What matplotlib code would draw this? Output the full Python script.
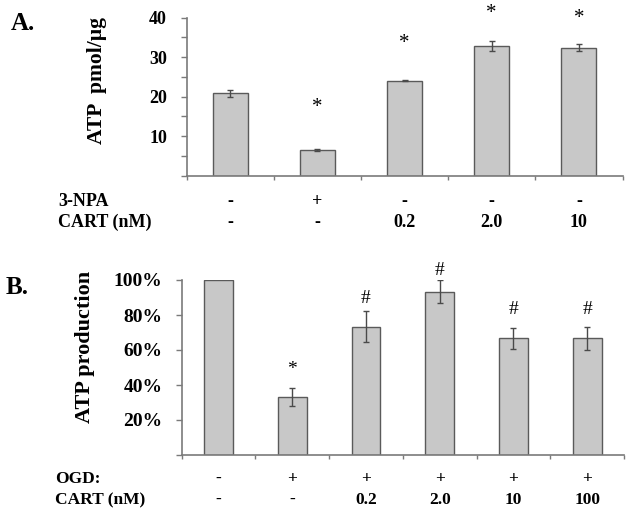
import numpy as np
import matplotlib
matplotlib.use("Agg")
import matplotlib.pyplot as plt
import matplotlib.transforms as mtransforms

# ---------------- data ----------------
a_values = [20.8, 6.5, 24.0, 32.8, 32.4]
a_errors = [0.8, 0.35, 0.15, 1.2, 0.8]
a_marks = ["", "*", "*", "*", "*"]
a_mark_y = [0, 17.3, 33.5, 41.0, 39.7]
a_row1_name = "3-NPA"
a_row1 = ["-", "+", "-", "-", "-"]
a_row2_name = "CART (nM)"
a_row2 = ["-", "-", "0.2", "2.0", "10"]
a_yticks = [0, 5, 10, 15, 20, 25, 30, 35, 40]
a_yticklabels = ["", "", "10", "", "20", "", "30", "", "40"]

b_values = [100, 33.3, 73.3, 93.3, 66.7, 66.7]
b_errors = [0, 5.1, 8.8, 6.5, 6.0, 6.7]
b_marks = ["", "*", "#", "#", "#", "#"]
b_mark_y = [0, 48.6, 89.5, 105.7, 82.9, 82.9]
b_row1_name = "OGD:"
b_row1 = ["-", "+", "+", "+", "+", "+"]
b_row2_name = "CART (nM)"
b_row2 = ["-", "-", "0.2", "2.0", "10", "100"]
b_yticks = [0, 20, 40, 60, 80, 100]
b_yticklabels = ["", "20%", "40%", "60%", "80%", "100%"]

# ---------------- style ----------------
W, H = 629, 512
FONT = "Liberation Serif"
plt.rcParams["font.family"] = [FONT, "DejaVu Serif"]
plt.rcParams["font.weight"] = "bold"

fig = plt.figure(figsize=(W / 100, H / 100), dpi=100)

def fx(px):
    return px / W

def fy(py):
    return 1 - py / H

BAR_FC = "#c8c8c8"
BAR_EC = "#5a5a5a"
AX_C = "#7a7a7a"
ERR_C = "#4a4a4a"


def make_panel(rect, values, errors, marks, mark_y, ylim, yticks, yticklabels,
               tick_fs, width, row_names, rows, row_y, row_x, row_fs,
               ylabel, ylabel_pos, ylabel_fs, letter, letter_pos, mark_fs):
    ax = fig.add_axes(rect)
    n = len(values)
    x = np.arange(n)
    ax.bar(x, values, width=width, color=BAR_FC, edgecolor=BAR_EC, linewidth=1.0, zorder=2)
    errs = np.asarray(errors, dtype=float)
    keep = errs > 0
    ax.errorbar(x[keep], np.asarray(values)[keep], yerr=errs[keep], fmt="none",
                ecolor=ERR_C, elinewidth=1.0, capsize=2.5, capthick=1.0, zorder=3)
    ax.set_xlim(-0.5, n - 0.5)
    ax.set_ylim(*ylim)
    for s in ["top", "right"]:
        ax.spines[s].set_visible(False)
    for s in ["left", "bottom"]:
        ax.spines[s].set_color(AX_C)
        ax.spines[s].set_linewidth(1.2)
    ax.set_yticks(yticks)
    ax.set_yticklabels(yticklabels, fontsize=tick_fs, fontweight="bold", family=FONT)
    ax.tick_params(axis="y", direction="out", length=4, width=1, color=AX_C, pad=10)
    ax.set_xticks(np.arange(-0.5, n, 1.0))
    ax.set_xticklabels([])
    ax.tick_params(axis="x", direction="out", length=3, width=1, color=AX_C)
    # significance marks
    for xi, m, my in zip(x, marks, mark_y):
        if m:
            ax.text(xi, my, m, ha="center", va="center", fontsize=mark_fs,
                    fontweight="normal", family=FONT, clip_on=False)
    # condition rows
    trans = mtransforms.blended_transform_factory(ax.transData, fig.transFigure)
    for name, row, ry in zip(row_names, rows, row_y):
        fig.text(fx(row_x), fy(ry), name, ha="left", va="center",
                 fontsize=row_fs, fontweight="bold", family=FONT)
        for xi, lab in zip(x, row):
            ax.text(xi, fy(ry), lab, transform=trans, ha="center", va="center",
                    fontsize=row_fs, fontweight="bold", family=FONT)
    fig.text(fx(ylabel_pos[0]), fy(ylabel_pos[1]), ylabel, rotation=90,
             ha="center", va="center", fontsize=ylabel_fs, fontweight="bold", family=FONT)
    fig.text(fx(letter_pos[0]), fy(letter_pos[1]), letter, ha="left", va="center",
             fontsize=18, fontweight="bold", family=FONT)
    return ax


# Panel A
a_rect = [fx(186.5), fy(175.7), fx(622.5 - 186.5), (175.7 - 17.5) / H]
make_panel(a_rect, a_values, a_errors, a_marks, a_mark_y, (0, 40), a_yticks,
           a_yticklabels, 13, 0.4, [a_row1_name, a_row2_name], [a_row1, a_row2],
           [201, 222.5], 58, 13, "ATP  pmol/\u00b5g", (97, 81), 15.5, "A.", (11, 24), 15)

# Panel B
b_rect = [fx(181.7), fy(455), fx(624 - 181.7), (455 - 280) / H]
make_panel(b_rect, b_values, b_errors, b_marks, b_mark_y, (0, 100), b_yticks,
           b_yticklabels, 14, 0.39, [b_row1_name, b_row2_name], [b_row1, b_row2],
           [479, 500], 55, 12.5, "ATP production", (85, 347), 16, "B.", (6, 287), 14)

fig.savefig("out.png", dpi=100)
